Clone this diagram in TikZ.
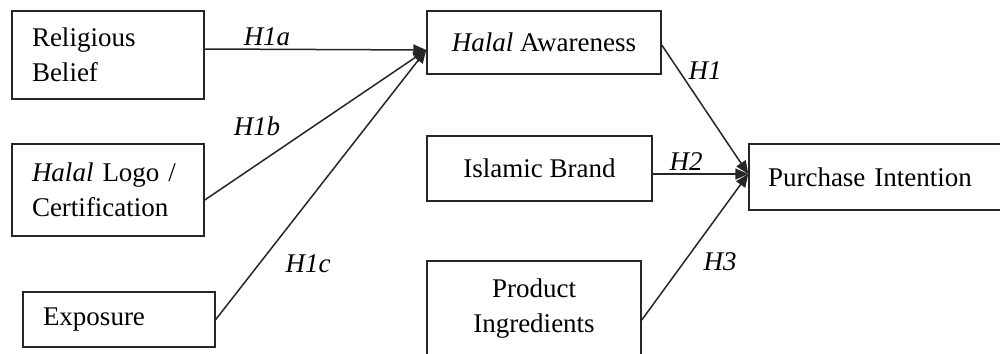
\documentclass[tikz,border=0pt]{standalone}
\usepackage{fontspec}
\setmainfont{Liberation Serif}
\usetikzlibrary{arrows.meta,calc}
\begin{document}
\begin{tikzpicture}[x=1pt,y=-1pt,
  box/.style={draw=black!85,line width=1.5pt,rectangle,inner sep=0pt,
    font=\fontsize{27}{35}\selectfont,text=black},
  lbox/.style={box,align=left,inner xsep=20pt,text width=#1},
  cbox/.style={box,align=center},
  lab/.style={font=\fontsize{27}{32}\selectfont\itshape,text=black,inner sep=0pt},
  arr/.style={draw=black!85,line width=1.5pt,-{Triangle[length=13pt,width=11pt]}}]
\useasboundingbox[fill=white] (0,0) rectangle (1000,353);

% left column
\node[lbox=152pt,minimum height=88pt] (rb) at (108,55) {Religious\\Belief};
\node[lbox=152pt,minimum height=92pt] (hl) at (108,190) {\textit{Halal} Logo /\\Certification};
\node[lbox=152pt,minimum height=55pt] (ex) at (119,319.5) {Exposure};

% middle column
\node[cbox,minimum width=234pt,minimum height=63pt] (ha) at (544,42.5) {\textit{Halal} Awareness};
\node[cbox,minimum width=225pt,minimum height=65pt] (ib) at (539.5,168.5) {Islamic Brand};
\node[cbox,minimum width=214pt,minimum height=96pt] (pg) at (534,309) {Product\\Ingredients};

% right
\node[box,align=left,inner xsep=19pt,text width=218pt,minimum height=66pt] (pi) at (877,177) {Purchase Intention};

% arrow endpoints
\coordinate (haIn) at ($(ha.west)+(0,7.5)$);
\coordinate (piIn) at ($(pi.west)+(0,-3)$);
\coordinate (rbOut) at ($(rb.east)+(0,-6)$);
\coordinate (hlOut) at ($(hl.east)+(0,10)$);
\coordinate (haOut) at ($(ha.east)+(0,2.5)$);
\coordinate (ibOut) at ($(ib.east)+(0,5.5)$);
\coordinate (pgOut) at ($(pg.east)+(0,11)$);

\draw[arr] (rbOut) -- (haIn);
\draw[arr] (hlOut) -- (haIn);
\draw[arr] (ex.east) -- (haIn);
\draw[arr] (haOut) -- (piIn);
\draw[arr] (ibOut) -- (piIn);
\draw[arr] (pgOut) -- (piIn);

% labels
\node[lab] (l1a) at (267,37) {H1a};
\node[lab] (l1b) at (257,126) {H1b};
\node[lab] (l1c) at (308,264) {H1c};
\node[lab] (l1) at (705,71) {H1};
\node[lab] (l2) at (686,162) {H2};
\node[lab] (l3) at (720,262) {H3};
\end{tikzpicture}
\end{document}
